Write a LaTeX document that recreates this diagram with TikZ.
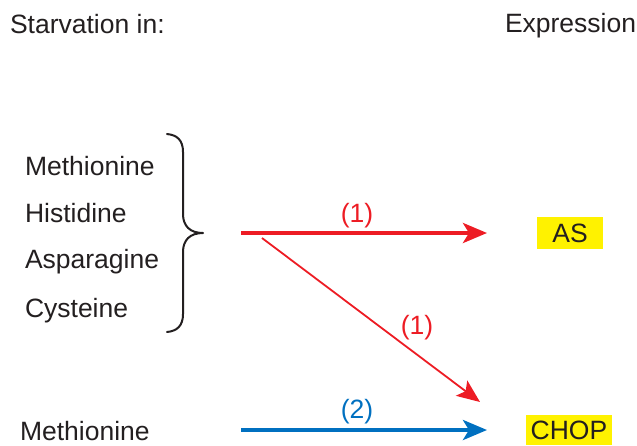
\documentclass[tikz,border=0pt]{standalone}
\usepackage{fontspec}
\setmainfont{Liberation Sans}
\usetikzlibrary{arrows.meta}
\definecolor{txt}{HTML}{231F20}
\definecolor{myred}{HTML}{ED1C24}
\definecolor{myblue}{HTML}{0070C0}
\definecolor{myyellow}{HTML}{FFF200}
\begin{document}
\begin{tikzpicture}[x=1pt,y=-1pt,
  every node/.style={inner sep=0pt,outer sep=0pt,text=txt,font=\fontsize{26.5}{30}\selectfont},
  lbl/.style={anchor=base west},
  gene/.style={fill=myyellow,text height=18.8pt,text depth=0pt,minimum height=32pt},
  thickarr/.style={line width=4pt,-{Stealth[length=24pt,width=20pt,inset=6pt]}},
  thinarr/.style={line width=1.8pt,-{Stealth[length=23pt,width=19pt,inset=5pt]}},
  num/.style={anchor=base}
]
\useasboundingbox (0,0) rectangle (637,445);
% headings
\node[lbl] (starv) at (10,33) {Starvation in:};
\node[lbl] (expr) at (505,32) {Expression};
% amino acids
\node[lbl] (met1) at (25,175) {Methionine};
\node[lbl] (his) at (25,222) {Histidine};
\node[lbl] (asn) at (25,268) {Asparagine};
\node[lbl] (cys) at (25,317) {Cysteine};
\node[lbl] (met2) at (20,440) {Methionine};
% brace
\draw[line width=2pt,txt,line cap=round,line join=round]
  (167,134) .. controls (177,135) and (183,140) .. (183,152)
  -- (183,214) .. controls (183,226) and (190,233) .. (203,233)
  .. controls (190,233) and (183,240) .. (183,252)
  -- (183,314) .. controls (183,326) and (177,331) .. (167,332);
% genes
\node[gene,minimum width=66pt] (AS) at (570,233) {AS};
\node[gene,minimum width=86pt,minimum height=30pt] (CHOP) at (569,430) {CHOP};
% arrow anchors
\coordinate (s1) at (241,233);
\coordinate (d1) at (262,238);
\coordinate (d2) at (480,402);
\coordinate (s2) at (241,430);
% arrows
\draw[thickarr,myred,shorten >=50pt] (s1) -- (AS.west);
\draw[thinarr,myred] (d1) -- (d2);
\draw[thickarr,myblue,shorten >=39pt] (s2) -- (CHOP.west);
% labels
\node[num,text=myred] (l1) at (357,222) {(1)};
\node[num,text=myred] (l2) at (417,334) {(1)};
\node[num,text=myblue] (l3) at (357,418) {(2)};
\end{tikzpicture}
\end{document}
